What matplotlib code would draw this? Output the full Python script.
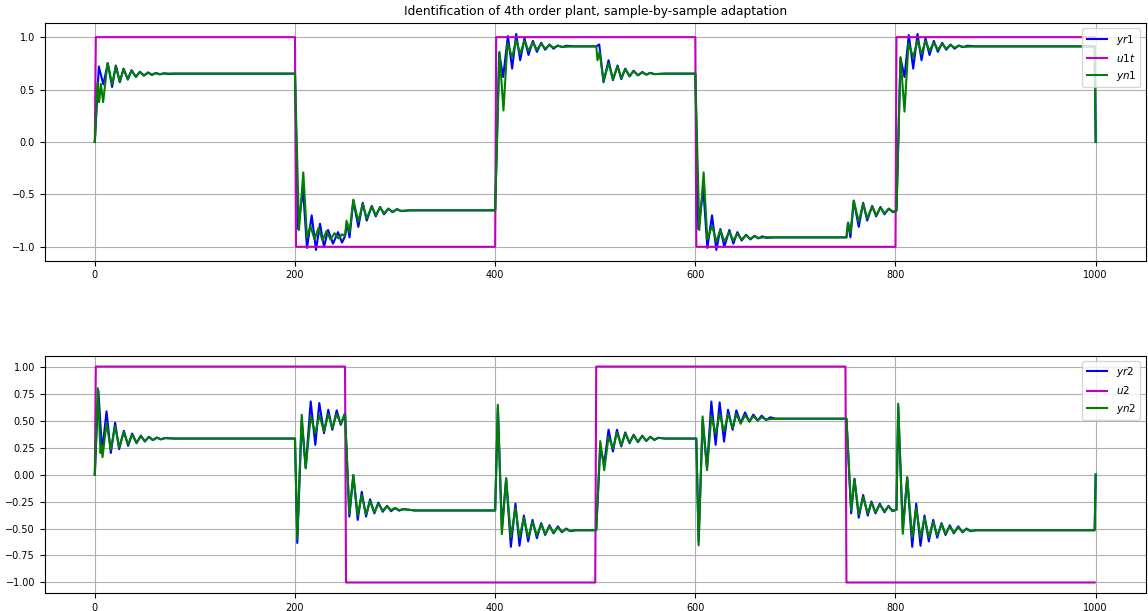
import numpy as np
import matplotlib
matplotlib.use("Agg")
import matplotlib.pyplot as plt
from matplotlib.ticker import MultipleLocator

# === Inputs: square waves, level held from each switching sample on ===
n_samples = 1000
u1t_switch = [1, 201, 401, 601, 801]
u1t_level = [1, -1, 1, -1, 1]
u2_switch = [1, 251, 501, 751]
u2_level = [1, -1, 1, -1]

# === Outputs: turning points (sample, value) of plant (yr) and model (yn) ===
yr1_k = [0, 4, 8.5, 13, 17.3, 21, 25, 28.7, 33, 36.7, 41, 45, 49, 53.3, 57, 61, 65, 69, 73, 80, 200,
         203, 208, 212, 216.7, 221, 225, 229, 233, 238, 243, 247, 250,
         252, 254.5, 258.3, 263.3, 267.7, 271.7, 276.7, 280.7, 285, 289, 293.3, 297.5, 302, 306, 315, 400,
         404, 408, 412.7, 417, 421, 425, 429.3, 433.3, 437.7, 441.7, 446, 450, 454.3, 458.3, 462.7, 467, 471, 480, 501,
         504, 508.3, 513.3, 517.7, 522.3, 526, 530, 534.3, 538.3, 542.7, 547, 551, 555, 559, 570, 600,
         603, 608, 612, 616.7, 621, 625, 629, 634, 638, 642, 646.3, 650.7, 655, 659, 663, 667, 671, 680, 751,
         752.7, 755, 758.3, 763.3, 767.7, 771.7, 776.7, 780.7, 785, 789, 793.3, 797.5, 801,
         805, 809, 813.3, 817.7, 822, 826, 830, 834, 838.3, 842.3, 846.7, 850.7, 855, 859, 863.3, 867.3, 872, 880, 999, 1000]
yr1_v = [0, 0.72, 0.55, 0.75, 0.525, 0.73, 0.57, 0.70, 0.595, 0.685, 0.62, 0.67, 0.633, 0.663, 0.64, 0.658, 0.645, 0.655, 0.648, 0.652, 0.652,
         -0.83, -0.45, -1.01, -0.70, -1.03, -0.78, -1.0, -0.84, -0.97, -0.86, -0.96, -0.90,
         -0.77, -0.91, -0.56, -0.81, -0.58, -0.75, -0.61, -0.71, -0.62, -0.69, -0.635, -0.67, -0.64, -0.66, -0.652, -0.652,
         0.85, 0.62, 1.01, 0.70, 1.03, 0.78, 0.99, 0.83, 0.965, 0.86, 0.946, 0.88, 0.93, 0.89, 0.92, 0.905, 0.918, 0.912, 0.912,
         0.93, 0.57, 0.78, 0.59, 0.73, 0.60, 0.70, 0.625, 0.68, 0.635, 0.668, 0.642, 0.66, 0.647, 0.652, 0.652,
         -0.83, -0.45, -1.01, -0.70, -1.03, -0.83, -1.0, -0.84, -0.97, -0.86, -0.94, -0.885, -0.93, -0.895, -0.92, -0.90, -0.915, -0.91, -0.91,
         -0.77, -0.91, -0.56, -0.81, -0.58, -0.75, -0.61, -0.71, -0.62, -0.69, -0.635, -0.67, -0.655,
         0.80, 0.62, 1.02, 0.70, 1.03, 0.78, 0.99, 0.83, 0.965, 0.86, 0.946, 0.88, 0.93, 0.89, 0.92, 0.905, 0.918, 0.912, 0.912, 0.0]

yn1_k = [0, 2.7, 4.3, 6, 8.3, 12.7, 17.3, 21, 25, 28.7, 33, 36.7, 41, 45, 49, 53.3, 57, 61, 65, 69, 80, 200,
         204, 208.3, 212, 215.5, 219.5, 223.5, 227.5, 231.5, 235.5, 239.5, 243.5, 247, 250,
         251.5, 254.5, 258.3, 263.3, 267.7, 271.7, 276.7, 280.7, 285, 289, 293.3, 297.5, 302, 306, 315, 400,
         404.3, 408.3, 412.3, 417, 421, 425, 429.3, 433.3, 437.7, 441.7, 446, 450, 454.3, 458.3, 462.7, 467, 480, 501,
         502.3, 504.3, 508.3, 513.3, 517.7, 522.3, 526, 530, 534.3, 538.3, 542.7, 547, 551, 555, 559, 570, 600,
         604, 608.3, 612, 616.7, 621, 625, 629, 634, 638, 642, 646.3, 650.7, 655, 659, 663, 671, 680, 751,
         752.5, 755, 758.3, 763.3, 767.7, 771.7, 776.7, 780.7, 785, 789, 793.3, 797.5, 801,
         805, 809, 813, 817.7, 822, 826, 830, 834, 838.3, 842.3, 846.7, 850.7, 855, 859, 863.3, 867.3, 880, 999, 1000]
yn1_v = [0, 0.57, 0.38, 0.555, 0.38, 0.754, 0.55, 0.725, 0.575, 0.695, 0.60, 0.682, 0.623, 0.668, 0.635, 0.661, 0.642, 0.657, 0.647, 0.654, 0.652, 0.652,
         -0.84, -0.29, -0.91, -0.80, -0.93, -0.82, -0.94, -0.85, -0.93, -0.87, -0.92, -0.88, -0.90,
         -0.75, -0.86, -0.55, -0.76, -0.59, -0.73, -0.615, -0.70, -0.625, -0.68, -0.64, -0.665, -0.645, -0.657, -0.652, -0.652,
         0.86, 0.30, 0.94, 0.81, 0.97, 0.84, 0.965, 0.87, 0.95, 0.88, 0.935, 0.89, 0.925, 0.90, 0.918, 0.907, 0.912, 0.912,
         0.78, 0.86, 0.58, 0.75, 0.60, 0.72, 0.61, 0.695, 0.63, 0.675, 0.638, 0.665, 0.644, 0.658, 0.648, 0.652, 0.652,
         -0.84, -0.29, -0.93, -0.80, -0.95, -0.84, -0.95, -0.86, -0.94, -0.875, -0.93, -0.89, -0.925, -0.90, -0.915, -0.908, -0.91, -0.91,
         -0.77, -0.87, -0.56, -0.76, -0.59, -0.73, -0.615, -0.70, -0.625, -0.68, -0.64, -0.665, -0.655,
         0.81, 0.29, 0.94, 0.81, 0.97, 0.84, 0.965, 0.87, 0.95, 0.88, 0.935, 0.89, 0.925, 0.90, 0.918, 0.907, 0.912, 0.912, 0.0]

yr2_k = [0, 3.5, 7.3, 11.7, 16, 20.3, 24.3, 29, 33.3, 37.3, 41.7, 46, 50, 54, 58, 62, 66, 70, 80, 200,
         202.3, 206.7, 210.7, 215.7, 220.3, 224.3, 229, 233.3, 237.3, 241.7, 245.7, 250,
         254.3, 258.3, 262.7, 266.7, 271, 275, 279.3, 283.3, 287.7, 292, 296, 300, 304, 308, 320, 400,
         402.7, 406.7, 411, 415.7, 420.3, 424.3, 428.7, 433, 437.3, 441.7, 446, 450, 454.3, 458.3, 462.7, 466.7, 471, 475, 480, 501,
         505, 509, 513.3, 517.7, 521.7, 526, 530, 534.3, 538.3, 542.7, 547, 551, 555, 559, 563, 570, 601,
         603.3, 607.3, 611.7, 616, 620.3, 624.3, 628.7, 632.7, 637.3, 641, 645.3, 649.7, 654, 658, 662.3, 666.3, 670.7, 675, 680, 751,
         755.7, 759, 763.3, 767.7, 772.3, 776, 780, 784.3, 789, 793, 797, 801,
         802.7, 807.3, 811.7, 816.7, 820.7, 825, 829, 833.3, 837.7, 841.7, 846, 850, 854.3, 858.3, 862.7, 867, 871, 875, 880, 999, 1000]
yr2_v = [0, 0.78, 0.21, 0.585, 0.20, 0.48, 0.235, 0.405, 0.265, 0.38, 0.29, 0.36, 0.305, 0.35, 0.318, 0.343, 0.325, 0.338, 0.333, 0.333,
         -0.634, 0.50, 0.06, 0.677, 0.275, 0.662, 0.383, 0.60, 0.414, 0.594, 0.46, 0.57,
         -0.39, -0.005, -0.42, -0.16, -0.39, -0.23, -0.36, -0.26, -0.345, -0.29, -0.34, -0.31, -0.335, -0.32, -0.333, -0.333,
         0.62, -0.50, -0.036, -0.67, -0.27, -0.66, -0.38, -0.62, -0.42, -0.59, -0.45, -0.56, -0.47, -0.545, -0.48, -0.535, -0.50, -0.525, -0.516, -0.516,
         0.25, 0.10, 0.415, 0.213, 0.415, 0.26, 0.39, 0.29, 0.368, 0.30, 0.36, 0.31, 0.35, 0.32, 0.34, 0.333, 0.333,
         -0.62, 0.50, 0.06, 0.676, 0.275, 0.668, 0.305, 0.60, 0.414, 0.594, 0.476, 0.575, 0.49, 0.555, 0.50, 0.545, 0.505, 0.53, 0.517, 0.517,
         -0.36, -0.04, -0.40, -0.19, -0.38, -0.25, -0.36, -0.27, -0.35, -0.29, -0.34, -0.325,
         0.63, -0.50, -0.026, -0.67, -0.27, -0.66, -0.38, -0.62, -0.42, -0.585, -0.45, -0.56, -0.47, -0.545, -0.48, -0.535, -0.50, -0.525, -0.516, -0.516, 0.0]

yn2_k = [0, 3, 5.7, 6.7, 7.7, 11.7, 16, 20.3, 24.3, 29, 33.3, 37.3, 41.7, 46, 50, 54, 58, 62, 66, 70, 80, 200,
         202.3, 206.7, 210.7, 215.7, 220.3, 224.3, 229, 233.3, 237.3, 241.7, 245.7, 250,
         254.3, 258.3, 262.7, 266.7, 271, 275, 279.3, 283.3, 287.7, 292, 296, 300, 304, 308, 320, 400,
         402.7, 406.7, 411, 415.7, 420.3, 424.3, 428.7, 433, 437.3, 441.7, 446, 450, 454.3, 458.3, 462.7, 466.7, 471, 475, 480, 501,
         505, 509, 513.3, 517.7, 521.7, 526, 530, 534.3, 538.3, 542.7, 547, 551, 555, 559, 563, 570, 601,
         603.3, 607.3, 611.7, 616, 620.3, 624.3, 628.7, 632.7, 637.3, 641, 645.3, 649.7, 654, 658, 662.3, 666.3, 670.7, 680, 751,
         755.7, 759, 763.3, 767.7, 772.3, 776, 780, 784.3, 789, 793, 797, 801,
         802.7, 807.3, 811.7, 816.7, 820.7, 825, 829, 833.3, 837.7, 841.7, 846, 850, 854.3, 858.3, 862.7, 867, 871, 875, 880, 999, 1000]
yn2_v = [0, 0.80, 0.20, 0.27, 0.16, 0.48, 0.23, 0.45, 0.25, 0.395, 0.275, 0.37, 0.295, 0.355, 0.31, 0.347, 0.32, 0.34, 0.327, 0.337, 0.333, 0.333,
         -0.595, 0.553, 0.058, 0.538, 0.383, 0.55, 0.40, 0.56, 0.43, 0.56, 0.47, 0.555,
         -0.361, -0.005, -0.38, -0.19, -0.37, -0.245, -0.35, -0.27, -0.335, -0.295, -0.33, -0.31, -0.33, -0.322, -0.333, -0.333,
         0.647, -0.553, -0.036, -0.58, -0.31, -0.58, -0.40, -0.58, -0.44, -0.565, -0.46, -0.55, -0.48, -0.54, -0.49, -0.53, -0.505, -0.522, -0.516, -0.516,
         0.31, 0.04, 0.35, 0.24, 0.39, 0.27, 0.38, 0.295, 0.362, 0.305, 0.355, 0.315, 0.348, 0.322, 0.34, 0.333, 0.333,
         -0.656, 0.538, 0.04, 0.54, 0.38, 0.56, 0.40, 0.56, 0.43, 0.56, 0.47, 0.55, 0.49, 0.54, 0.50, 0.53, 0.51, 0.517, 0.517,
         -0.33, -0.04, -0.37, -0.21, -0.36, -0.26, -0.35, -0.28, -0.34, -0.295, -0.335, -0.325,
         0.656, -0.55, -0.026, -0.58, -0.31, -0.58, -0.40, -0.58, -0.44, -0.565, -0.46, -0.55, -0.48, -0.54, -0.49, -0.53, -0.505, -0.522, -0.516, -0.516, 0.0]


def square_wave(switch, level):
    u = np.zeros(n_samples)
    ends = switch[1:] + [n_samples]
    for a, b, lv in zip(switch, ends, level):
        u[a:b] = lv
    return u


k = np.arange(n_samples)
u1t = square_wave(u1t_switch, u1t_level)
u2 = square_wave(u2_switch, u2_level)

plt.rcParams['font.size'] = 7
lw = 1.5

fig = plt.figure(figsize=(11.48, 6.11), dpi=100)

ax1 = plt.subplot(2, 1, 1)
ax1.plot(yr1_k, yr1_v, 'b', lw=lw, label='$yr1$')
ax1.plot(k, u1t, 'm', lw=lw, label='$u1t$')
ax1.plot(yn1_k, yn1_v, 'g', lw=lw, label='$yn1$')
ax1.set_title("Identification of 4th order plant, sample-by-sample adaptation", fontsize=8.8)
ax1.yaxis.set_major_locator(MultipleLocator(0.5))
ax1.xaxis.set_major_locator(MultipleLocator(200))
ax1.grid(True)
ax1.legend(loc='upper right', fontsize=7.5)

ax2 = plt.subplot(2, 1, 2)
ax2.plot(yr2_k, yr2_v, 'b', lw=lw, label='$yr2$')
ax2.plot(k, u2, 'm', lw=lw, label='$u2$')
ax2.plot(yn2_k, yn2_v, 'g', lw=lw, label='$yn2$')
ax2.yaxis.set_major_locator(MultipleLocator(0.25))
ax2.xaxis.set_major_locator(MultipleLocator(200))
ax2.grid(True)
ax2.legend(loc='upper right', fontsize=7.5)

plt.subplots_adjust(left=0.039, right=0.998, top=0.962, bottom=0.029, hspace=0.4)
plt.savefig("out.png", dpi=100)
